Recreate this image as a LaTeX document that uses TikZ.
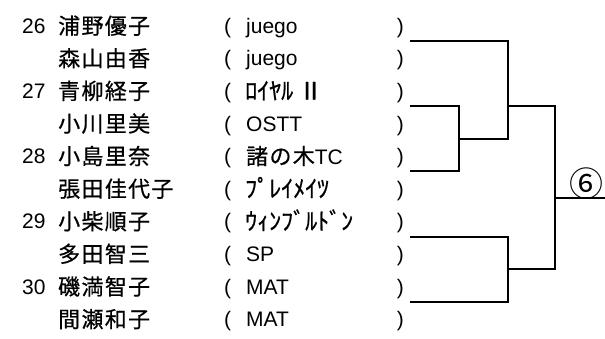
\documentclass[tikz,border=0pt]{standalone}
\usepackage{fontspec}
\setmainfont{Liberation Sans}
\newfontfamily\jpf{Noto Sans CJK JP}[LetterSpace=6,FakeBold=0.6]
\newfontfamily\jpk{Noto Sans CJK JP}[LetterSpace=0,FakeBold=0.6]
\newfontfamily\jpc{Noto Sans CJK JP}
\newcommand\latfont{\fontsize{21}{25}\selectfont}
\newcommand\jpfont{\fontsize{22}{26}\selectfont\jpf}
\newcommand\kafont{\fontsize{24}{28}\selectfont\jpk}
\begin{document}
\begin{tikzpicture}[x=1pt,y=-1pt,
  lat/.style={anchor=base west,inner sep=0pt,font=\latfont},
  jn/.style={anchor=base west,inner sep=0pt,font=\jpfont},
  ka/.style={anchor=base west,inner sep=0pt,font=\kafont},
  rp/.style={anchor=base east,inner sep=0pt,font=\latfont},
  br/.style={line width=2.7pt,line cap=rect,line join=miter}]
\useasboundingbox (0,0) rectangle (605,338);
% numbers
\node[lat] (n26) at (22,33.3) {26};
\node[lat] (n27) at (22,98.5) {27};
\node[lat] (n28) at (22,163.7) {28};
\node[lat] (n29) at (22,228.9) {29};
\node[lat] (n30) at (22,294.1) {30};
% names
\node[jn] (m0) at (58,34) {浦野優子};
\node[jn] (m1) at (58,66.6) {森山由香};
\node[jn] (m2) at (58,99.2) {青柳経子};
\node[jn] (m3) at (58,131.8) {小川里美};
\node[jn] (m4) at (58,164.4) {小島里奈};
\node[jn] (m5) at (58,197) {張田佳代子};
\node[jn] (m6) at (58,229.6) {小柴順子};
\node[jn] (m7) at (58,262.2) {多田智三};
\node[jn] (m8) at (58,294.8) {磯満智子};
\node[jn] (m9) at (58,327.4) {間瀬和子};
% clubs
\node[lat] (c0) at (246,33.3) {juego};
\node[lat] (c1) at (246,65.9) {juego};
\node[ka] (c2) at (245,99.5) {ﾛｲﾔﾙ Ⅱ};
\node[lat] (c3) at (246,131.1) {OSTT};
\node[lat] (c4) at (246,164.4) {{\jpfont 諸の木}TC};
\node[ka] (c5) at (245,197.3) {ﾌﾟﾚｲﾒｲﾂ};
\node[ka] (c6) at (245,229.9) {ｳｨﾝﾌﾞﾙﾄﾞﾝ};
\node[lat] (c7) at (246,261.5) {SP};
\node[lat] (c8) at (246,294.1) {MAT};
\node[lat] (c9) at (246,326.7) {MAT};
% parentheses
\foreach \i in {0,...,9}{
  \node[lat] (lp\i) at (224,33.3+32.6*\i) {(};
  \node[rp] (rq\i) at (404,33.3+32.6*\i) {)};
}
% bracket coordinates
\coordinate (a1) at (411,41);
\coordinate (a2) at (411,106);
\coordinate (a3) at (411,171);
\coordinate (a4) at (411,237);
\coordinate (a5) at (411,302);
\coordinate (j1) at (459,139);
\coordinate (j2) at (508,106);
\coordinate (j3) at (508,269);
\coordinate (j4) at (555,198);
\coordinate (fin) at (605,198);
% brackets
\draw[br] (a2) -| (j1) |- (a3);
\draw[br] (a1) -| (j2) |- (j1);
\draw[br] (a4) -| (j3) |- (a5);
\draw[br] (j2) -| (j4) |- (j3);
\draw[br] (j4) -- (fin);
\node[inner sep=0pt,font=\fontsize{34}{38}\selectfont\jpc] (r6) at (586,184) {⑥};
\end{tikzpicture}
\end{document}
